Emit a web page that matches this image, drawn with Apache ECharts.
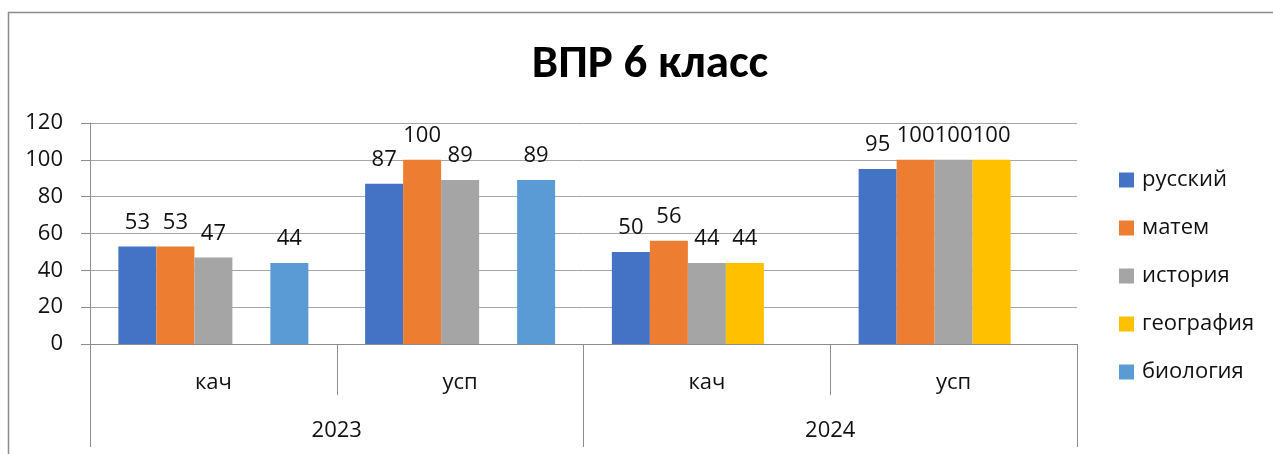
<!DOCTYPE html>
<html>
<head>
<meta charset="utf-8">
<script src="https://cdn.jsdelivr.net/npm/echarts@6/dist/echarts.min.js"></script>
<style>
html,body{margin:0;padding:0;background:#fff;}
#chart{width:1273px;height:454px;}
</style>
</head>
<body>
<div id="chart"></div>
<script>
const titleText = 'ВПР 6 класс';
const categories = ['кач', 'усп', 'кач', 'усп'];
const years = ['2023', '2024'];
const yTicks = { min: 0, max: 120, interval: 20 };
const seriesNames = ['русский', 'матем', 'история', 'география', 'биология'];
const seriesColors = ['#4472C4', '#ED7D31', '#A5A5A5', '#FFC000', '#5B9BD5'];
const russian   = [53, 87, 50, 95];
const math      = [53, 100, 56, 100];
const history   = [47, 89, 44, 100];
const geography = [null, null, 44, 100];
const biology   = [44, 89, null, null];
const seriesValues = [russian, math, history, geography, biology];

const TITLE_FONT = 'Carlito, Calibri, Lato, sans-serif';
const FONT = '"Open Sans", sans-serif';
const AXIS_COLOR = '#8C8C8C';
const GRID_COLOR = '#A6A6A6';
const TEXT_COLOR = '#111111';
const FS = 22;

const chart = echarts.init(document.getElementById('chart'), null, { renderer: 'canvas' });
const option = {
  backgroundColor: '#ffffff',
  animation: false,
  title: {
    text: titleText,
    left: 645,
    textAlign: 'center',
    top: 37,
    textStyle: { fontFamily: TITLE_FONT, fontSize: 47, fontWeight: 'bold', color: '#000' }
  },
  graphic: [{
    type: 'rect',
    left: 6, top: 10,
    shape: { width: 1300, height: 480 },
    style: { fill: 'none', stroke: '#8C8C8C', lineWidth: 1.5 },
    silent: true
  }],
  legend: {
    orient: 'vertical',
    left: 1114,
    top: 163,
    itemWidth: 15,
    itemHeight: 15,
    itemGap: 24,
    icon: 'rect',
    data: seriesNames,
    textStyle: { fontFamily: FONT, fontSize: FS, lineHeight: 24, color: TEXT_COLOR, padding: [0, 0, 0, 3] }
  },
  grid: { left: 90, right: 196, top: 123, bottom: 110, containLabel: false },
  xAxis: [{
    type: 'category',
    data: categories,
    position: 'bottom',
    boundaryGap: true,
    axisLine: { show: true, lineStyle: { color: AXIS_COLOR, width: 1 } },
    axisTick: { show: true, length: 51, interval: 0, lineStyle: { color: AXIS_COLOR } },
    axisLabel: { interval: 0, margin: 28, fontFamily: FONT, fontSize: FS, color: TEXT_COLOR }
  }, {
    type: 'category',
    data: years,
    position: 'bottom',
    boundaryGap: true,
    axisLine: { show: false },
    axisTick: { show: true, length: 103, interval: 0, lineStyle: { color: AXIS_COLOR } },
    axisLabel: { interval: 0, margin: 76, fontFamily: FONT, fontSize: FS, color: TEXT_COLOR },
    splitLine: { show: false }
  }],
  yAxis: {
    type: 'value',
    min: yTicks.min,
    max: yTicks.max,
    interval: yTicks.interval,
    axisLine: { show: true, lineStyle: { color: AXIS_COLOR } },
    axisTick: { show: true, length: 9, lineStyle: { color: AXIS_COLOR } },
    axisLabel: { margin: 27, fontFamily: FONT, fontSize: FS, color: TEXT_COLOR },
    splitLine: { show: true, lineStyle: { color: GRID_COLOR, width: 1 } }
  },
  series: seriesNames.map((name, i) => ({
    name: name,
    type: 'bar',
    xAxisIndex: 0,
    data: seriesValues[i],
    barGap: '0%',
    barCategoryGap: '23%',
    itemStyle: { color: seriesColors[i] },
    label: {
      show: true,
      position: 'top',
      distance: 13,
      fontFamily: FONT,
      fontSize: FS,
      color: TEXT_COLOR
    }
  }))
};
chart.setOption(option);
</script>
</body>
</html>
